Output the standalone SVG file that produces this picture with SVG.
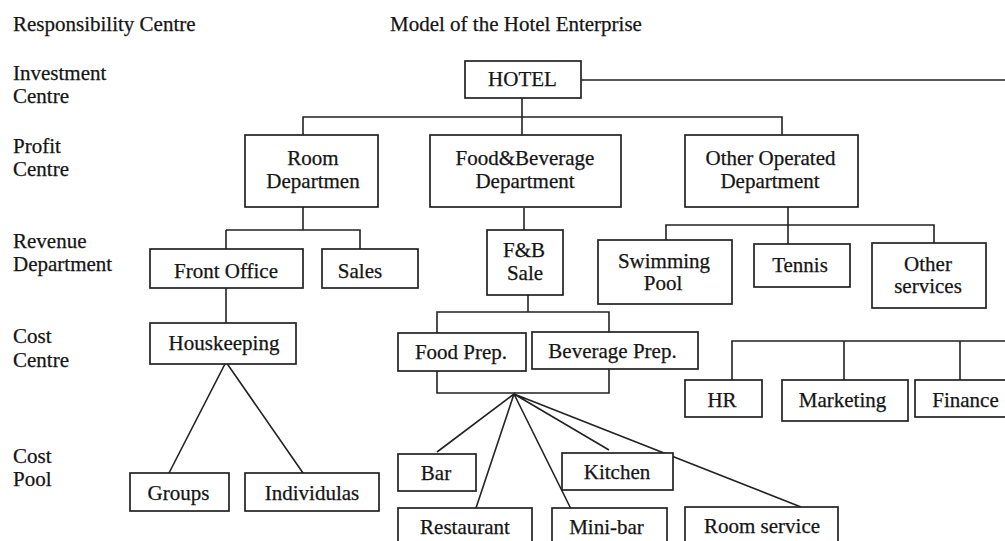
<svg xmlns="http://www.w3.org/2000/svg" width="1005" height="541" viewBox="0 0 1005 541">
<style>
text{font-family:"Liberation Serif","Times New Roman",serif;font-size:21px;fill:#151515;stroke:#151515;stroke-width:0.25}
.c{text-anchor:middle}
rect{fill:#fff;stroke:#222;stroke-width:1.7}
.ln{fill:none;stroke:#222;stroke-width:1.6}
</style>
<rect x="0" y="0" width="1005" height="541" style="stroke:none"/>
<g id="labels">
<text x="13" y="31">Responsibility Centre</text>
<text x="390" y="31">Model of the Hotel Enterprise</text>
<text x="13" y="80">Investment</text>
<text x="13" y="103">Centre</text>
<text x="13" y="153">Profit</text>
<text x="13" y="176">Centre</text>
<text x="13" y="248">Revenue</text>
<text x="13" y="271">Department</text>
<text x="13" y="343">Cost</text>
<text x="13" y="367">Centre</text>
<text x="13" y="463">Cost</text>
<text x="13" y="486">Pool</text>
</g>
<g id="connectors" class="ln">
<path class="ln" d="M581 80H1005"/>
<path class="ln" d="M522 98V135M303 135V117H782V135"/>
<path class="ln" d="M303 207V230M226 230H360V249M226 230V249"/>
<path class="ln" d="M226 288V323"/>
<path class="ln" d="M169 473L226 362L303 473"/>
<path class="ln" d="M524 208V230"/>
<path class="ln" d="M528 295V312M437 333V312H609V332"/>
<path class="ln" d="M437 371V393H609V369"/>
<path class="ln" d="M437 452L514 394L476 508M514 394L571 509M514 394L609 450M514 394L801 507"/>
<path class="ln" d="M788 207V244M666 240V225H934V243"/>
<path class="ln" d="M1005 341H732V380M844 341V380M960 341V380"/>
</g>
<g id="hotel"><rect x="465" y="61" width="116" height="37"/><text class="c" x="522.5" y="86">HOTEL</text></g>
<g id="room-dept"><rect x="245" y="135" width="133" height="72"/><text class="c" x="313" y="165">Room</text><text class="c" x="313" y="188">Departmen</text></g>
<g id="fb-dept"><rect x="430" y="135" width="191" height="72"/><text class="c" x="525" y="165">Food&amp;Beverage</text><text class="c" x="525" y="188">Department</text></g>
<g id="other-dept"><rect x="685" y="135" width="173" height="72"/><text class="c" x="770.5" y="165">Other Operated</text><text class="c" x="770" y="188">Department</text></g>
<g id="front-office"><rect x="150" y="249" width="153" height="39"/><text class="c" x="226" y="278">Front Office</text></g>
<g id="sales"><rect x="322" y="249" width="96" height="39"/><text class="c" x="360" y="278">Sales</text></g>
<g id="housekeeping"><rect x="150" y="323" width="146" height="41"/><text class="c" x="224" y="350">Houskeeping</text></g>
<g id="groups"><rect x="130" y="473" width="99" height="38"/><text class="c" x="178.5" y="500">Groups</text></g>
<g id="individulas"><rect x="245" y="473" width="134" height="38"/><text class="c" x="312" y="500">Individulas</text></g>
<g id="fb-sale"><rect x="487" y="230" width="76" height="65"/><text class="c" x="524" y="257">F&amp;B</text><text class="c" x="525" y="280">Sale</text></g>
<g id="food-prep"><rect x="398" y="333" width="128" height="38"/><text class="c" x="461" y="359">Food Prep.</text></g>
<g id="beverage-prep"><rect x="532" y="332" width="166" height="37"/><text class="c" x="612.5" y="358">Beverage Prep.</text></g>
<g id="bar"><rect x="398" y="454" width="78" height="37"/><text class="c" x="436" y="480">Bar</text></g>
<g id="kitchen"><rect x="562" y="453" width="111" height="37"/><text class="c" x="617" y="479">Kitchen</text></g>
<g id="restaurant"><rect x="398" y="508" width="134" height="40"/><text class="c" x="465" y="534">Restaurant</text></g>
<g id="mini-bar"><rect x="552" y="508" width="115" height="40"/><text class="c" x="606.5" y="534">Mini-bar</text></g>
<g id="room-service"><rect x="685" y="507" width="153" height="41"/><text class="c" x="762" y="533">Room service</text></g>
<g id="swimming-pool"><rect x="598" y="240" width="134" height="64"/><text class="c" x="664" y="268">Swimming</text><text class="c" x="663" y="290">Pool</text></g>
<g id="tennis"><rect x="754" y="244" width="96" height="43"/><text class="c" x="800" y="272">Tennis</text></g>
<g id="other-services"><rect x="872" y="243" width="114" height="65"/><text class="c" x="928" y="271">Other</text><text class="c" x="928" y="293">services</text></g>
<g id="hr"><rect x="685" y="380" width="77" height="37"/><text class="c" x="722" y="407">HR</text></g>
<g id="marketing"><rect x="782" y="380" width="126" height="41"/><text class="c" x="842.5" y="407">Marketing</text></g>
<g id="finance"><rect x="915" y="380" width="100" height="37"/><text class="c" x="965.5" y="407">Finance</text></g>
</svg>
